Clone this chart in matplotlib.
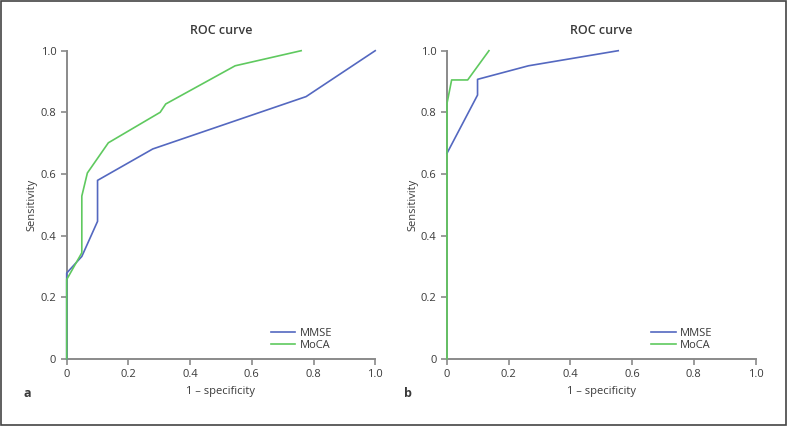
import matplotlib.pyplot as plt

plt.rcParams['font.family'] = ['Open Sans', 'DejaVu Sans']

# panel a
a_mmse_fpr = [0, 0, 0.049, 0.10, 0.10, 0.279, 0.776, 1.0]
a_mmse_tpr = [0, 0.278, 0.332, 0.446, 0.579, 0.681, 0.851, 1.0]
a_moca_fpr = [0, 0, 0.049, 0.049, 0.067, 0.135, 0.303, 0.321, 0.546, 0.76]
a_moca_tpr = [0, 0.257, 0.344, 0.528, 0.603, 0.701, 0.80, 0.827, 0.951, 1.0]

# panel b
b_mmse_fpr = [0, 0.099, 0.099, 0.264, 0.555]
b_mmse_tpr = [0.667, 0.856, 0.907, 0.951, 1.0]
b_moca_fpr = [0, 0, 0.015, 0.067, 0.136]
b_moca_tpr = [0, 0.829, 0.905, 0.905, 1.0]

ticks = [0, 0.2, 0.4, 0.6, 0.8, 1.0]
tick_labels = ['0', '0.2', '0.4', '0.6', '0.8', '1.0']

BLUE = '#5468c0'
GREEN = '#5fc95f'
AXIS = '#8a8a8a'
TEXT = '#3a3a3a'

fig = plt.figure(figsize=(7.87, 4.26), dpi=100)
W, H = 787, 426

panels = [
    (66.7, 'a', a_mmse_fpr, a_mmse_tpr, a_moca_fpr, a_moca_tpr),
    (447.0, 'b', b_mmse_fpr, b_mmse_tpr, b_moca_fpr, b_moca_tpr),
]

for x0, letter, mf, mt, cf, ct in panels:
    ax = fig.add_axes([x0 / W, (H - 358.7) / H, 308.5 / W, 308 / H])
    ax.plot(mf, mt, color=BLUE, lw=1.2, label='MMSE', clip_on=False)
    ax.plot(cf, ct, color=GREEN, lw=1.2, label='MoCA', clip_on=False)
    ax.set_xlim(0, 1)
    ax.set_ylim(0, 1)
    ax.set_xticks(ticks)
    ax.set_xticklabels(tick_labels)
    ax.set_yticks(ticks)
    ax.set_yticklabels(tick_labels)
    for s in ['top', 'right']:
        ax.spines[s].set_visible(False)
    for s in ['left', 'bottom']:
        ax.spines[s].set_color(AXIS)
        ax.spines[s].set_linewidth(1.4)
        ax.spines[s].set_zorder(0)
    ax.tick_params(colors=AXIS, labelcolor=TEXT, labelsize=8, length=4,
                   width=1.2, direction='out')
    ax.set_title('ROC curve', fontsize=9, color=TEXT, fontweight='semibold', pad=12)
    ax.set_xlabel('1 – specificity', fontsize=8, color=TEXT, labelpad=4)
    ax.set_ylabel('Sensitivity', fontsize=8, color=TEXT, labelpad=2)
    leg = ax.legend(loc='lower right', bbox_to_anchor=(0.893, -0.006), frameon=False,
                    fontsize=8, handlelength=2.2, labelspacing=0.02, handletextpad=0.4)
    for t in leg.get_texts():
        t.set_color(TEXT)
    ax.text(-0.14, -0.125, letter, transform=ax.transAxes, fontsize=9,
            fontweight='bold', color=TEXT)

# outer frame
fig.patches.append(plt.Rectangle((0.001, 0.002), 0.998, 0.996, transform=fig.transFigure,
                                 fill=False, edgecolor='#444444', lw=1.2))

fig.savefig('out.png', dpi=100)
